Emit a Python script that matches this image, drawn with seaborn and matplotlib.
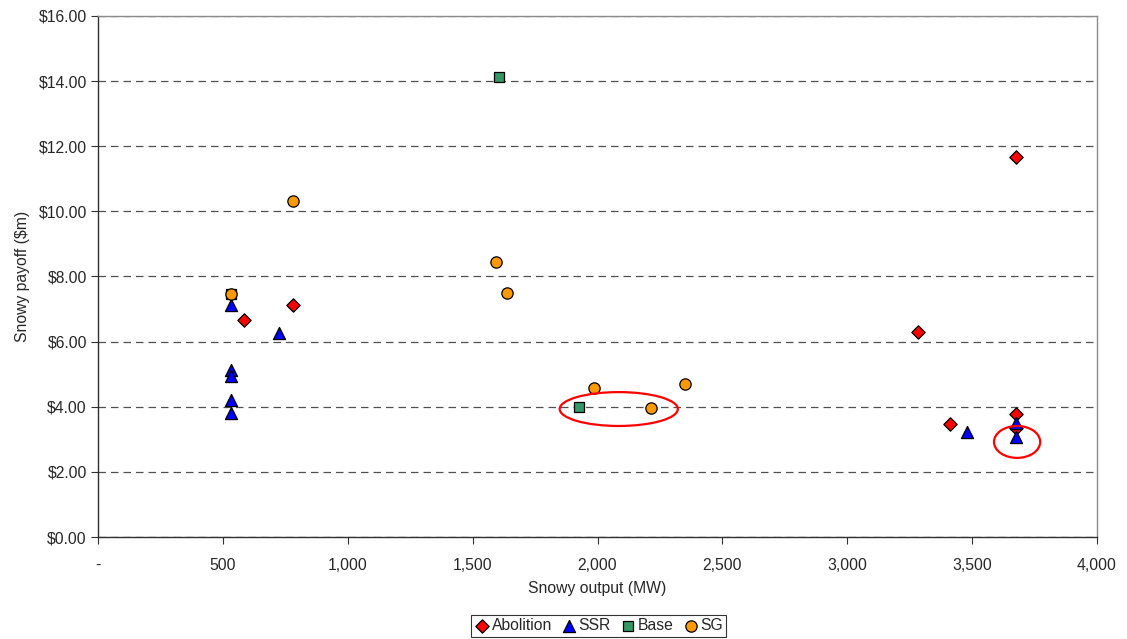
import matplotlib
matplotlib.use('Agg')
from matplotlib import pyplot as plt
from matplotlib.patches import Ellipse
from matplotlib.ticker import FuncFormatter, MultipleLocator
import seaborn as sns
import pandas as pd

sns.set_style('white')
plt.rcParams['font.family'] = ['Liberation Sans', 'DejaVu Sans']

# values
abolition_mw = [586, 781, 3283, 3411, 3676, 3676, 3676]
abolition_pay = [6.66, 7.13, 6.31, 3.46, 11.67, 3.78, 3.36]

ssr_mw = [531, 531, 531, 531, 531, 724, 3480, 3676, 3676]
ssr_pay = [7.12, 5.13, 4.94, 4.21, 3.82, 6.27, 3.24, 3.49, 3.06]

base_mw = [531, 1606, 1927]
base_pay = [7.46, 14.13, 3.99]

sg_mw = [531, 780, 1594, 1638, 1987, 2216, 2352]
sg_pay = [7.46, 10.32, 8.45, 7.49, 4.58, 3.96, 4.70]

# red rings drawn on the chart: centre x, centre y, width (MW), height ($m)
ring_x = [2085, 3680]
ring_y = [3.93, 2.92]
ring_w = [473, 185]
ring_h = [1.04, 0.98]

series = ['Abolition', 'SSR', 'Base', 'SG']
_markers = {'Abolition': 'D', 'SSR': '^', 'Base': 's', 'SG': 'o'}
_colors = {'Abolition': '#FF0000', 'SSR': '#0000FF', 'Base': '#339966', 'SG': '#FF9900'}
_sizes = {'Abolition': 46, 'SSR': 76, 'Base': 60, 'SG': 66}
_fs = 11.3

df = pd.concat([
    pd.DataFrame({'mw': abolition_mw, 'pay': abolition_pay, 'series': 'Abolition'}),
    pd.DataFrame({'mw': ssr_mw, 'pay': ssr_pay, 'series': 'SSR'}),
    pd.DataFrame({'mw': base_mw, 'pay': base_pay, 'series': 'Base'}),
    pd.DataFrame({'mw': sg_mw, 'pay': sg_pay, 'series': 'SG'}),
])

f = plt.figure(figsize=(11.27, 6.39), dpi=100)
ax = f.add_axes([0.087, 0.1596, 0.8864, 0.8154])

for name in series:
    sub = df[df.series == name]
    sns.scatterplot(data=sub, x='mw', y='pay', marker=_markers[name], color=_colors[name],
                    s=_sizes[name], edgecolor='black', linewidth=0.9, label=name, ax=ax, zorder=3)

for cx, cy, w, h in zip(ring_x, ring_y, ring_w, ring_h):
    ax.add_patch(Ellipse((cx, cy), w, h, fill=False, edgecolor='#FF0000', linewidth=1.6, zorder=4))

ax.set_xlim(0, 4000)
ax.set_ylim(0, 16)
ax.xaxis.set_major_locator(MultipleLocator(500))
ax.yaxis.set_major_locator(MultipleLocator(2))
ax.xaxis.set_major_formatter(FuncFormatter(lambda v, p: '-' if v == 0 else '{:,.0f}'.format(v)))
ax.yaxis.set_major_formatter(FuncFormatter(lambda v, p: '\\${:,.2f}'.format(v)))
ax.tick_params(axis='both', labelsize=_fs, length=5, direction='out', color='#303030',
               bottom=True, left=True)
ax.tick_params(axis='x', pad=10)
ax.tick_params(axis='y', pad=3)
ax.grid(axis='y', linestyle=(0, (6, 4)), color='#505050', linewidth=0.9)
ax.set_axisbelow(True)
for side in ('top', 'right'):
    ax.spines[side].set_color('#8c8c8c')
    ax.spines[side].set_linewidth(1.0)
for side in ('left', 'bottom'):
    ax.spines[side].set_color('#303030')
    ax.spines[side].set_linewidth(1.0)

ax.set_xlabel('Snowy output (MW)', fontsize=_fs, labelpad=6)
ax.set_ylabel('Snowy payoff (\\$m)', fontsize=_fs, labelpad=6)

ax.get_legend().remove()
h, l = ax.get_legend_handles_labels()
leg = f.legend(h, l, loc='center', bbox_to_anchor=(0.531, 0.0204), ncol=4, fontsize=_fs,
               frameon=True, fancybox=False, handletextpad=0.1, columnspacing=0.6,
               handlelength=1.0, borderpad=0.2, borderaxespad=0)
leg.get_frame().set_edgecolor('black')
leg.get_frame().set_linewidth(0.8)

f.savefig('out.png', dpi=100)
